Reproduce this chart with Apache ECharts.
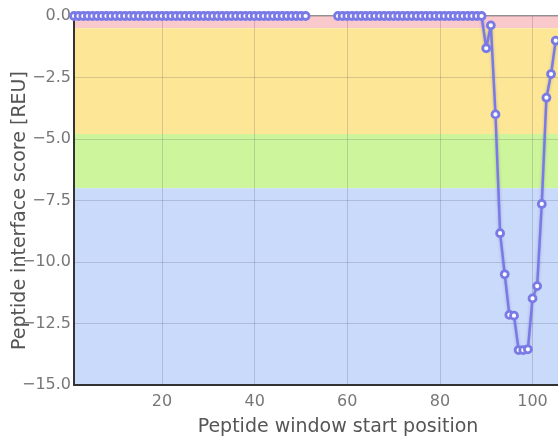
<!DOCTYPE html>
<html>
<head>
<meta charset="utf-8">
<script src="https://cdn.jsdelivr.net/npm/echarts@6/dist/echarts.min.js"></script>
<style>html,body{margin:0;padding:0;background:#fff}#c{width:558px;height:440px}</style>
</head>
<body>
<div id="c"></div>
<script>
// Window start positions
var positions = [
  1,2,3,4,5,6,7,8,9,10,11,12,13,14,15,16,17,18,19,20,
  21,22,23,24,25,26,27,28,29,30,31,32,33,34,35,36,37,38,39,40,
  41,42,43,44,45,46,47,48,49,50,51,52,53,54,55,56,57,58,59,60,
  61,62,63,64,65,66,67,68,69,70,71,72,73,74,75,76,77,78,79,80,
  81,82,83,84,85,86,87,88,89,90,91,92,93,94,95,96,97,98,99,100,
  101,102,103,104,105
];
// Peptide interface score [REU] (null = no window)
var scores = [
  0,0,0,0,0,0,0,0,0,0,0,0,0,0,0,0,0,0,0,0,
  0,0,0,0,0,0,0,0,0,0,0,0,0,0,0,0,0,0,0,0,
  0,0,0,0,0,0,0,0,0,0,0,null,null,null,null,null,null,0,0,0,
  0,0,0,0,0,0,0,0,0,0,0,0,0,0,0,0,0,0,0,0,
  0,0,0,0,0,0,0,0,0,-1.31,-0.38,-4.0,-8.83,-10.5,-12.15,-12.18,-13.58,-13.58,-13.55,-11.48,
  -10.98,-7.64,-3.32,-2.36,-1.0
];
// Score bands (upper, lower)
var bandTop    = [0, -0.5, -4.8, -7];
var bandBottom = [-0.5, -4.8, -7, -15];
var bandColors = ['#f9c9cc', '#fde796', '#cdf59b', '#cadafa'];

var yTicks = { min: -15, max: 0, step: 2.5 };
var xRange = { min: 1, max: 115 };

var pts = positions.map(function (p, i) { return [p, scores[i]]; });
var areas = bandTop.map(function (t, i) {
  return [{ yAxis: t, itemStyle: { color: bandColors[i] } }, { yAxis: bandBottom[i] }];
});

var chart = echarts.init(document.getElementById('c'));
var FONT = 'DejaVu Sans';
chart.setOption({
  animation: false,
  textStyle: { fontFamily: FONT },
  grid: {
    left: 74, top: 16, bottom: 55, right: -44,
    outerBoundsMode: 'none', containLabel: false,
    show: true, borderColor: '#222', borderWidth: 1, backgroundColor: 'transparent'
  },
  xAxis: {
    type: 'value', min: xRange.min, max: xRange.max, splitNumber: 5, z: 4,
    name: 'Peptide window start position', nameLocation: 'middle', nameGap: 33, nameMoveOverlap: false,
    nameTextStyle: { fontFamily: FONT, fontSize: 19, color: '#555' },
    axisLine: { show: true, onZero: false, lineStyle: { color: '#333', width: 2 } },
    axisTick: { show: false },
    axisLabel: { showMinLabel: false, showMaxLabel: false, fontFamily: FONT, fontSize: 16, color: '#777', margin: 9 },
    splitLine: { show: true, lineStyle: { color: 'rgba(60,60,80,0.2)', width: 1 } }
  },
  yAxis: {
    type: 'value', min: yTicks.min, max: yTicks.max, interval: yTicks.step, z: 4,
    name: 'Peptide interface score [REU]', nameLocation: 'middle', nameGap: 44, nameMoveOverlap: false,
    nameTextStyle: { fontFamily: FONT, fontSize: 19, color: '#555', padding: [0, 20, 0, 0] },
    axisLine: { show: true, onZero: false, lineStyle: { color: '#333', width: 2 } },
    axisTick: { show: false },
    axisLabel: {
      fontFamily: FONT, fontSize: 16, color: '#777', margin: 3,
      formatter: function (v) { var s = Math.abs(v).toFixed(1); return v < 0 ? '\u2212' + s : s; }
    },
    splitLine: { show: true, lineStyle: { color: 'rgba(60,60,80,0.2)', width: 1 } }
  },
  series: [{
    type: 'line', z: 6,
    data: pts,
    connectNulls: false,
    symbol: 'circle', symbolSize: 7,
    lineStyle: { color: '#7a7ae6', width: 2.5, shadowBlur: 3, shadowColor: 'rgba(60,60,160,0.35)' },
    itemStyle: { color: '#ffffff', borderColor: '#7a7ae6', borderWidth: 2.8 },
    markArea: { silent: true, z: 1, data: areas }
  }]
});
</script>
</body>
</html>
